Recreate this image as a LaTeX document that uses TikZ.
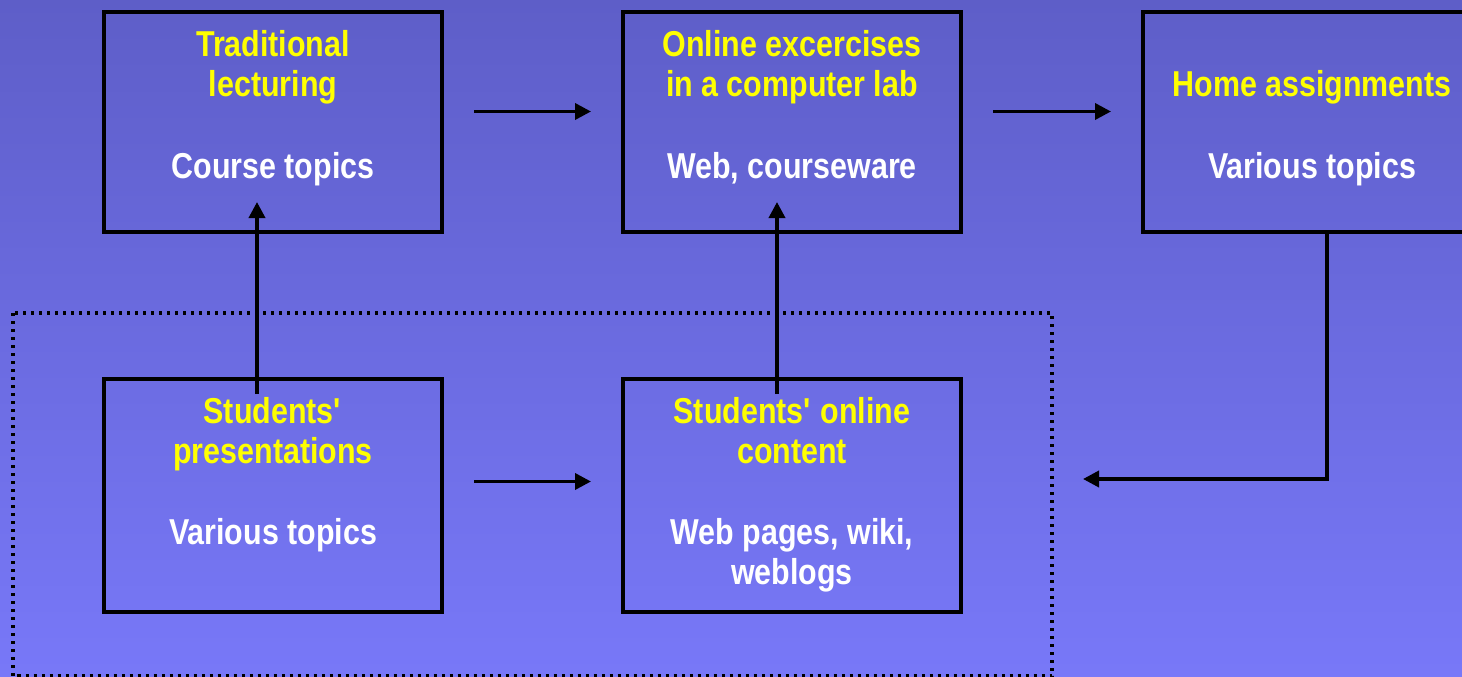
\documentclass[tikz,border=0pt]{standalone}
\usepackage{fontspec}
\setmainfont{Liberation Sans}[FakeStretch=0.845]
\usetikzlibrary{arrows.meta}
\definecolor{bgtop}{HTML}{5E5EC8}
\definecolor{bgbot}{HTML}{7878F8}
\definecolor{ttl}{HTML}{FFFF00}
\tikzset{
  boxnode/.style={draw=black, line width=4pt, minimum width=338pt, inner sep=0pt},
  titletext/.style={anchor=north, inner sep=0pt, align=center, text=ttl,
    font=\fontsize{36}{40}\selectfont\bfseries},
  subtext/.style={anchor=north, inner sep=0pt, align=center, text=white,
    font=\fontsize{36}{40}\selectfont\bfseries},
  arr/.style={draw=black, line width=3.6pt, -{Triangle[length=16pt,width=16pt]}},
  groupframe/.style={draw=black, line width=4pt, dash pattern=on 3pt off 5pt}
}
\begin{document}
\begin{tikzpicture}[x=1pt,y=-1pt]
\shade[top color=bgtop, bottom color=bgbot] (0,0) rectangle (1462,677);
\useasboundingbox (0,0) rectangle (1462,677);
\begin{scope}
\clip (0,0) rectangle (1462,677);
% group frame
\draw[groupframe] (12.5,313) rectangle (1052,676);
% boxes
\node[boxnode, minimum height=220pt] (b1) at (273,122) {};
\node[boxnode, minimum height=220pt] (b2) at (792,122) {};
\node[boxnode, minimum height=220pt] (b3) at (1312,122) {};
\node[boxnode, minimum height=233pt] (b4) at (273,495.5) {};
\node[boxnode, minimum height=233pt] (b5) at (792,495.5) {};
% texts
\node[titletext] (t1) at ([yshift=-20pt]b1.north) {Traditional\\lecturing};
\node[subtext] (s1) at ([yshift=-142pt]b1.north) {Course topics};
\node[titletext] (t2) at ([yshift=-20pt]b2.north) {Online excercises\\in a computer lab};
\node[subtext] (s2) at ([yshift=-142pt]b2.north) {Web, courseware};
\node[titletext] (t3) at ([yshift=-60pt]b3.north) {Home assignments};
\node[subtext] (s3) at ([yshift=-142pt]b3.north) {Various topics};
\node[titletext] (t4) at ([yshift=-20pt]b4.north) {Students\textquotesingle\\presentations};
\node[subtext] (s4) at ([yshift=-141pt]b4.north) {Various topics};
\node[titletext] (t5) at ([yshift=-20pt]b5.north) {Students\textquotesingle{} online\\content};
\node[subtext] (s5) at ([yshift=-141pt]b5.north) {Web pages, wiki,\\weblogs};
% connectors
\draw[arr] ([xshift=30pt,yshift=10.5pt]b1.east) -- ([xshift=-30pt,yshift=10.5pt]b2.west);
\draw[arr] ([xshift=30pt,yshift=10.5pt]b2.east) -- ([xshift=-30pt,yshift=10.5pt]b3.west);
\draw[arr] ([xshift=30pt,yshift=14pt]b4.east) -- ([xshift=-30pt,yshift=14pt]b5.west);
\draw[arr] ([xshift=-16pt,yshift=-17pt]b4.north) -- ([xshift=-16pt,yshift=32pt]b1.south);
\draw[arr] ([xshift=-15pt,yshift=-17pt]b5.north) -- ([xshift=-15pt,yshift=32pt]b2.south);
\coordinate (hbend) at (1327,479);
\coordinate (htip) at (1083,479);
\draw[arr] (b3.south -| hbend) -- (hbend) -- (htip);
\end{scope}
\end{tikzpicture}
\end{document}
